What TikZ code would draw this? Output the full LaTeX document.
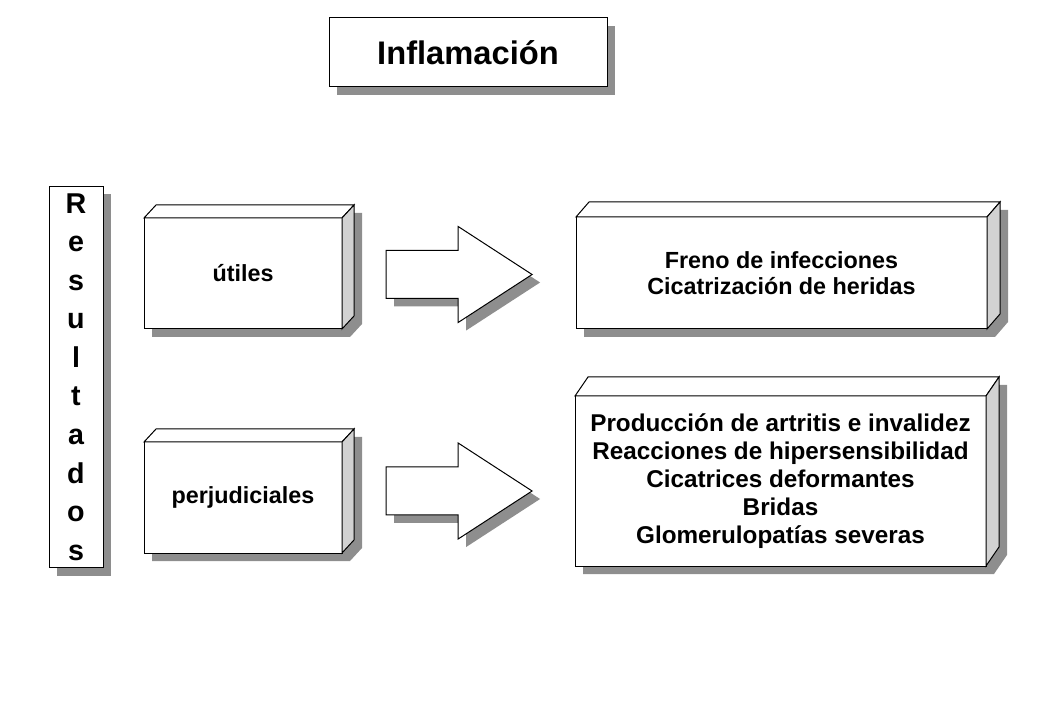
\documentclass[tikz,border=0pt]{standalone}
\usepackage{fontspec}
\setmainfont{Liberation Sans}
\usetikzlibrary{shapes.arrows,shadows,backgrounds}
\definecolor{shadowgray}{HTML}{8E8E8E}
\definecolor{sidegray}{HTML}{D2D2D2}

\begin{document}
\begin{tikzpicture}[x=0.75pt,y=-0.75pt,
    box/.style={draw, fill=white, line width=0.75pt, outer sep=0pt, inner sep=0pt,
      align=center, font=\bfseries\fontsize{17.5}{19.5}\selectfont},
    shade/.style={drop shadow={shadow xshift=6pt, shadow yshift=-6pt,
      fill=shadowgray, opacity=1}},
    bigarrow/.style={single arrow, draw, fill=white, line width=0.75pt, inner sep=0pt,
      single arrow head extend=18pt, single arrow tip angle=66,
      minimum height=109.5pt, anchor=tip, shade},
    ]
    \useasboundingbox (0,0) rectangle (1040,720);

    \node[box, shade, minimum width=208.5pt, minimum height=51.75pt,
      font=\bfseries\fontsize{24.5}{28}\selectfont] (title) at (468,52.5) {Inflamación};

    \node[box, shade, minimum width=40.5pt, minimum height=285.75pt,
      font=\bfseries\fontsize{21.5}{28.9}\selectfont] (res) at (76,377)
      {R\\e\\s\\u\\l\\t\\a\\d\\o\\s};

    \node[box, minimum width=148.5pt, minimum height=83.25pt] (util) at (243,273.5) {útiles};
    \node[box, minimum width=148.5pt, minimum height=83.25pt] (perj) at (243,497.5) {perjudiciales};

    \node[bigarrow] (arr1) at (533,274.5) {\rule{0pt}{35.25pt}};
    \node[bigarrow] (arr2) at (533,491) {\rule{0pt}{35.25pt}};

    \node[box, minimum width=308.25pt, minimum height=84pt] (freno) at (781.5,273)
      {Freno de infecciones\\Cicatrización de heridas};
    \node[box, minimum width=308.25pt, minimum height=127.5pt,
      font=\bfseries\fontsize{18.2}{21}\selectfont] (prod) at (780.5,481)
      {Producción de artritis e invalidez\\Reacciones de hipersensibilidad\\
       Cicatrices deformantes\\Bridas\\Glomerulopatías severas};

    % top and side faces, shadow behind
    \foreach \n/\dx/\dy in {util/12/-13, perj/12/-13, freno/13/-15, prod/13/-19} {
      \draw[fill=white, line width=0.75pt] (\n.north west) -- ([shift={(\dx,\dy)}]\n.north west)
        -- ([shift={(\dx,\dy)}]\n.north east) -- (\n.north east) -- cycle;
      \draw[fill=sidegray, line width=0.75pt] (\n.north east) -- ([shift={(\dx,\dy)}]\n.north east)
        -- ([shift={(\dx,\dy)}]\n.south east) -- (\n.south east) -- cycle;
      \begin{scope}[on background layer]
        \fill[shadowgray] ([shift={(8,8)}]\n.south west) -- ([shift={(8,8)}]\n.north west)
          -- ([shift={(\dx+8,\dy+8)}]\n.north west) -- ([shift={(\dx+8,\dy+8)}]\n.north east)
          -- ([shift={(\dx+8,\dy+8)}]\n.south east) -- ([shift={(8,8)}]\n.south east) -- cycle;
      \end{scope}
    }
  \end{tikzpicture}
\end{document}
